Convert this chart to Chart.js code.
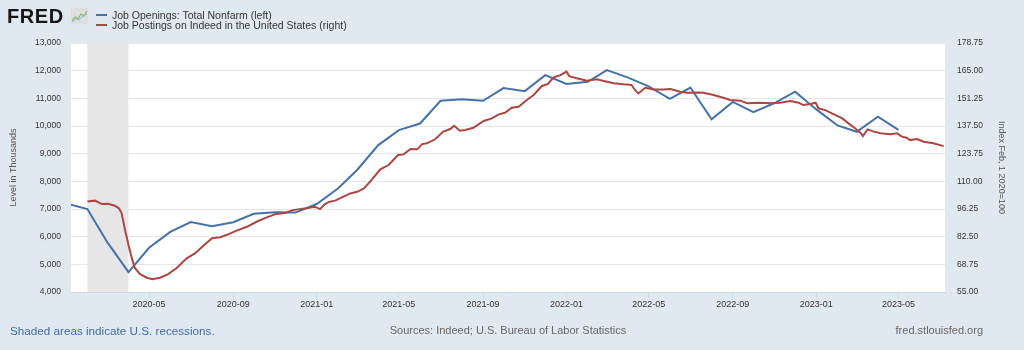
<!DOCTYPE html>
<html>
<head>
<meta charset="utf-8">
<script src="https://cdn.jsdelivr.net/npm/chart.js@4.4.1/dist/chart.umd.min.js"></script>
<style>
  body { margin: 0; background: #e1e9f0; font-family: "Liberation Sans", Arial, sans-serif; }
  #wrap { position: relative; width: 1024px; height: 350px; overflow: hidden; }
  #canvas { position: absolute; left: 0; top: 0; }
  .abs { position: absolute; white-space: nowrap; }
  .logo { left: 7px; top: 6px; font-size: 20px; line-height: 20px; font-weight: bold; letter-spacing: 0.6px; color: #161616; }
  .legend { left: 112px; font-size: 10.5px; line-height: 10px; height: 10px; color: #333; }
  .swatch { left: 96px; width: 11px; height: 2px; }
  .foot { top: 324px; font-size: 11px; line-height: 13px; color: #666; }
</style>
</head>
<body>
<div id="wrap">
  <canvas id="canvas" width="1024" height="350"></canvas>
  <div class="abs logo">FRED</div>
  <svg class="abs" style="left:71px;top:8px" width="17" height="16" viewBox="0 0 17 16">
    <rect x="0" y="0" width="17" height="16" rx="1" fill="#dedede"/>
    <polyline points="1,13 4,9 7,11 10,6 13,8 16,3" fill="none" stroke="#7fb55e" stroke-width="1.2"/>
    <polyline points="1,14 5,11 8,12 11,9 16,6" fill="none" stroke="#9bbbd8" stroke-width="1"/>
  </svg>
  <div class="abs swatch" style="top:14px;background:#4572a7"></div>
  <div class="abs swatch" style="top:24px;background:#aa4643"></div>
  <div class="abs legend" style="top:10px">Job Openings: Total Nonfarm (left)</div>
  <div class="abs legend" style="top:20px">Job Postings on Indeed in the United States (right)</div>
  <div class="abs foot" style="left:10px;font-size:11.7px;color:#3d6ca3">Shaded areas indicate U.S. recessions.</div>
  <div class="abs foot" style="left:508px;transform:translateX(-50%)">Sources: Indeed; U.S. Bureau of Labor Statistics</div>
  <div class="abs foot" style="right:41px">fred.stlouisfed.org</div>
</div>
<script>
// JOLTS job openings, monthly, thousands (left axis)
const openingsMonths = [
  "2020-01", "2020-02", "2020-03", "2020-04", "2020-05", "2020-06", "2020-07", "2020-08", "2020-09", "2020-10", "2020-11", "2020-12",
  "2021-01", "2021-02", "2021-03", "2021-04", "2021-05", "2021-06", "2021-07", "2021-08", "2021-09", "2021-10", "2021-11", "2021-12",
  "2022-01", "2022-02", "2022-03", "2022-04", "2022-05", "2022-06", "2022-07", "2022-08", "2022-09", "2022-10", "2022-11", "2022-12",
  "2023-01", "2023-02", "2023-03", "2023-04", "2023-05",
];
const openingsValues = [
  7200, 7000, 5800, 4720, 5600, 6170, 6530, 6380, 6520, 6830, 6880, 6870,
  7180, 7740, 8410, 9310, 9850, 10090, 10910, 10970, 10910, 11370, 11260, 11840,
  11520, 11600, 12020, 11750, 11430, 10980, 11390, 10240, 10870, 10500, 10830, 11240,
  10600, 10020, 9790, 10340, 9860,
];

// Indeed job postings index, Feb 1 2020 = 100 (right axis)
const postingDates = [
  "2020-02-01", "2020-02-12", "2020-02-22", "2020-03-02", "2020-03-12", "2020-03-18", "2020-03-22", "2020-03-27", "2020-04-01", "2020-04-06",
  "2020-04-10", "2020-04-18", "2020-04-28", "2020-05-06", "2020-05-17", "2020-05-29", "2020-06-10", "2020-06-25", "2020-07-07", "2020-07-19",
  "2020-08-01", "2020-08-13", "2020-08-22", "2020-09-06", "2020-09-21", "2020-10-05", "2020-10-20", "2020-11-03", "2020-11-17", "2020-11-27",
  "2020-12-17", "2020-12-29", "2021-01-06", "2021-01-13", "2021-01-20", "2021-01-28", "2021-02-09", "2021-02-19", "2021-03-01", "2021-03-11",
  "2021-03-21", "2021-04-04", "2021-04-16", "2021-04-30", "2021-05-08", "2021-05-18", "2021-05-28", "2021-06-04", "2021-06-11", "2021-06-23",
  "2021-07-05", "2021-07-15", "2021-07-21", "2021-07-29", "2021-08-06", "2021-08-18", "2021-09-02", "2021-09-14", "2021-09-24", "2021-10-03",
  "2021-10-13", "2021-10-23", "2021-11-04", "2021-11-14", "2021-11-26", "2021-12-05", "2021-12-13", "2021-12-23", "2022-01-01", "2022-01-05",
  "2022-01-16", "2022-01-31", "2022-02-14", "2022-03-01", "2022-03-11", "2022-03-25", "2022-04-06", "2022-04-11", "2022-04-16", "2022-04-26",
  "2022-05-08", "2022-05-23", "2022-06-02", "2022-06-16", "2022-06-26", "2022-07-11", "2022-07-20", "2022-08-04", "2022-08-18", "2022-08-28",
  "2022-09-12", "2022-09-22", "2022-10-11", "2022-10-26", "2022-11-09", "2022-11-24", "2022-12-06", "2022-12-13", "2022-12-23", "2022-12-31",
  "2023-01-04", "2023-01-14", "2023-01-26", "2023-02-08", "2023-02-17", "2023-02-27", "2023-03-07", "2023-03-10", "2023-03-17", "2023-03-26",
  "2023-04-05", "2023-04-19", "2023-04-29", "2023-05-06", "2023-05-13", "2023-05-18", "2023-05-28", "2023-06-07", "2023-06-21", "2023-07-06",
];
const postingValues = [
  100.0, 100.4, 98.7, 98.9, 97.9, 96.6, 94.1, 85.8, 78.4, 71.7,
  67.1, 63.9, 62.1, 61.3, 62.1, 63.9, 66.8, 71.7, 74.2, 77.9,
  81.7, 82.2, 83.3, 85.5, 87.4, 89.9, 92.1, 93.8, 94.4, 95.7,
  96.6, 97.4, 96.2, 98.7, 99.9, 100.4, 102.4, 104.0, 104.8, 106.5,
  110.2, 116.0, 118.1, 123.1, 123.4, 126.1, 125.9, 128.5, 128.9, 130.9,
  134.7, 136.0, 137.6, 135.2, 135.5, 136.6, 140.0, 141.3, 143.3, 144.1,
  146.6, 147.1, 150.4, 152.9, 157.4, 158.4, 161.7, 162.8, 164.5, 162.3,
  161.2, 160.0, 160.7, 159.5, 158.7, 158.2, 157.9, 155.4, 153.7, 156.5,
  155.7, 155.7, 155.9, 154.5, 154.0, 154.2, 154.0, 152.9, 151.5, 150.4,
  150.1, 148.8, 149.1, 148.8, 149.1, 149.9, 149.1, 147.9, 148.4, 149.1,
  146.3, 145.4, 143.4, 141.3, 138.8, 136.3, 133.9, 132.5, 135.8, 134.7,
  133.9, 133.4, 133.9, 132.2, 131.7, 130.5, 131.0, 129.7, 128.9, 127.5,
];

const recession = ["2020-02-01", "2020-04-01"];
const xRange = ["2020-01-08", "2023-07-08"];
const xTickLabels = ["2020-05", "2020-09", "2021-01", "2021-05", "2021-09", "2022-01", "2022-05", "2022-09", "2023-01", "2023-05"];
const leftTicks = [4000, 5000, 6000, 7000, 8000, 9000, 10000, 11000, 12000, 13000];
const rightTicks = [55, 68.75, 82.5, 96.25, 110, 123.75, 137.5, 151.25, 165, 178.75];

// x values are days since 2020-01-01
const BASE = Date.UTC(2020, 0, 1);
function toDay(s) {
  const p = s.split("-").map(Number);
  return (Date.UTC(p[0], p[1] - 1, p[2] || 1) - BASE) / 86400000;
}
function dayLabel(v) {
  return new Date(BASE + v * 86400000).toISOString().slice(0, 7);
}

const plotBackground = {
  id: "plotBackground",
  beforeDraw(chart) {
    const { ctx, chartArea: a } = chart;
    ctx.save();
    ctx.fillStyle = "#ffffff";
    ctx.fillRect(a.left, a.top, a.right - a.left, a.bottom - a.top);
    ctx.restore();
  },
};

const recessionShade = {
  id: "recessionShade",
  beforeDatasetsDraw(chart) {
    const { ctx, chartArea: a, scales } = chart;
    const x0 = scales.x.getPixelForValue(toDay(recession[0]));
    const x1 = scales.x.getPixelForValue(toDay(recession[1]));
    ctx.save();
    ctx.fillStyle = "#e6e6e6";
    ctx.fillRect(x0, a.top, x1 - x0, a.bottom - a.top);
    ctx.restore();
  },
};

Chart.defaults.font.family = '"Liberation Sans", Arial, sans-serif';

const ctx = document.getElementById("canvas");

new Chart(ctx, {
  type: "line",
  data: {
    datasets: [
      {
        label: "Job Openings: Total Nonfarm (left)",
        data: openingsMonths.map((m, i) => ({ x: toDay(m), y: openingsValues[i] })),
        borderColor: "#4572a7",
        borderWidth: 2,
        pointRadius: 0,
        tension: 0,
        yAxisID: "y",
        order: 1,
      },
      {
        label: "Job Postings on Indeed in the United States (right)",
        data: postingDates.map((d, i) => ({ x: toDay(d), y: postingValues[i] })),
        borderColor: "#aa4643",
        borderWidth: 2,
        pointRadius: 0,
        tension: 0,
        yAxisID: "y1",
        order: 0,
      },
    ],
  },
  options: {
    responsive: false,
    animation: false,
    layout: { padding: { top: 43, left: 0, right: 0, bottom: 38 } },
    plugins: {
      legend: { display: false },
      tooltip: { enabled: false },
    },
    scales: {
      x: {
        type: "linear",
        min: toDay(xRange[0]),
        max: toDay(xRange[1]),
        afterFit(s) { s.height = 20; },
        afterBuildTicks(s) { s.ticks = xTickLabels.map((l) => ({ value: toDay(l) })); },
        grid: { drawOnChartArea: false, drawTicks: true, tickLength: 6, color: "#ccd6eb" },
        border: { color: "#ccd6eb" },
        ticks: {
          autoSkip: false,
          maxRotation: 0,
          padding: 1,
          color: "#333",
          font: { size: 9 },
          callback: (v) => dayLabel(v),
        },
      },
      y: {
        position: "left",
        min: 4000,
        max: 13000,
        afterFit(s) { s.width = 71; },
        afterBuildTicks(s) { s.ticks = leftTicks.map((v) => ({ value: v })); },
        grid: { color: "#e6e6e6", drawTicks: false },
        border: { display: false },
        ticks: {
          padding: 10,
          color: "#333",
          font: { size: 8.5 },
          callback: (v) => v.toLocaleString("en-US"),
        },
        title: {
          display: true,
          text: "Level in Thousands",
          color: "#555",
          font: { size: 9 },
          padding: { top: 8, bottom: 0 },
        },
      },
      y1: {
        position: "right",
        min: 55,
        max: 178.75,
        afterFit(s) { s.width = 79; },
        afterBuildTicks(s) { s.ticks = rightTicks.map((v) => ({ value: v })); },
        grid: { drawOnChartArea: false, drawTicks: false },
        border: { display: false },
        ticks: {
          padding: 12,
          color: "#333",
          font: { size: 8.5 },
          callback: (v) => v.toFixed(2),
        },
        title: {
          display: true,
          text: "Index Feb, 1 2020=100",
          color: "#555",
          font: { size: 9 },
          padding: { top: 17, bottom: 0 },
        },
      },
    },
  },
  plugins: [plotBackground, recessionShade],
});
</script>
</body>
</html>
